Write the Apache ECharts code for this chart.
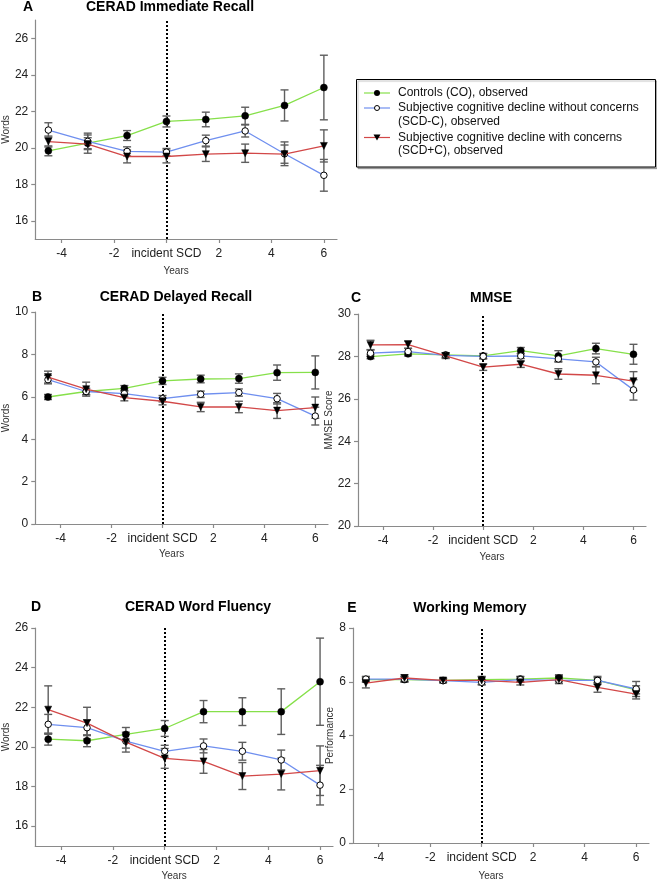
<!DOCTYPE html>
<html>
<head>
<meta charset="utf-8">
<script src="https://cdn.jsdelivr.net/npm/echarts@6/dist/echarts.min.js"></script>
<style>
html,body{margin:0;padding:0;background:#fff;}
#chart{width:657px;height:883px;}
</style>
</head>
<body>
<div id="chart"></div>
<script>
// ---- data ----
const years = [-4.5, -3, -1.5, 0, 1.5, 3, 4.5, 6];
const xTicks = [-4, -2, 0, 2, 4, 6];
const seriesNames = ['Controls (CO), observed', 'Subjective cognitive decline without concerns (SCD-C), observed', 'Subjective cognitive decline with concerns (SCD+C), observed'];

// A: CERAD Immediate Recall
const A_CO = [19.83, 20.25, 20.67, 21.44, 21.55, 21.75, 22.32, 23.30];
const A_CO_ERR = [0.27, 0.30, 0.27, 0.30, 0.40, 0.47, 0.85, 1.77];
const A_SCDm = [20.97, 20.35, 19.80, 19.76, 20.39, 20.92, 19.67, 18.49];
const A_SCDm_ERR = [0.40, 0.45, 0.25, 0.20, 0.30, 0.33, 0.65, 0.87];
const A_SCDp = [20.34, 20.20, 19.52, 19.52, 19.65, 19.70, 19.65, 20.10];
const A_SCDp_ERR = [0.30, 0.50, 0.35, 0.35, 0.40, 0.50, 0.50, 0.88];
const A_yTicks = [16, 18, 20, 22, 24, 26];

// B: CERAD Delayed Recall
const B_CO = [5.99, 6.25, 6.40, 6.75, 6.84, 6.86, 7.14, 7.15];
const B_CO_ERR = [0.12, 0.15, 0.13, 0.17, 0.18, 0.22, 0.36, 0.78];
const B_SCDm = [6.81, 6.25, 6.15, 5.91, 6.12, 6.20, 5.91, 5.09];
const B_SCDm_ERR = [0.20, 0.15, 0.15, 0.15, 0.15, 0.17, 0.25, 0.42];
const B_SCDp = [6.93, 6.36, 5.96, 5.79, 5.52, 5.52, 5.35, 5.49];
const B_SCDp_ERR = [0.28, 0.33, 0.15, 0.17, 0.22, 0.27, 0.37, 0.50];
const B_yTicks = [0, 2, 4, 6, 8, 10];

// C: MMSE
const C_CO = [27.99, 28.12, 28.07, 28.02, 28.27, 28.02, 28.37, 28.10];
const C_CO_ERR = [0.10, 0.10, 0.10, 0.12, 0.15, 0.25, 0.25, 0.47];
const C_SCDm = [28.15, 28.23, 28.05, 28.00, 28.02, 27.88, 27.74, 26.42];
const C_SCDm_ERR = [0.15, 0.15, 0.12, 0.12, 0.12, 0.15, 0.22, 0.48];
const C_SCDp = [28.54, 28.56, 28.02, 27.49, 27.63, 27.17, 27.11, 26.83];
const C_SCDp_ERR = [0.22, 0.18, 0.12, 0.15, 0.15, 0.25, 0.40, 0.45];
const C_yTicks = [20, 22, 24, 26, 28, 30];

// D: CERAD Word Fluency
const D_CO = [20.39, 20.31, 20.63, 20.93, 21.78, 21.78, 21.78, 23.29];
const D_CO_ERR = [0.30, 0.30, 0.35, 0.40, 0.56, 0.70, 1.15, 2.20];
const D_SCDm = [21.14, 20.97, 20.29, 19.78, 20.05, 19.78, 19.34, 18.07];
const D_SCDm_ERR = [0.50, 0.40, 0.35, 0.30, 0.35, 0.45, 0.50, 1.00];
const D_SCDp = [21.88, 21.20, 20.24, 19.42, 19.27, 18.53, 18.63, 18.80];
const D_SCDp_ERR = [1.20, 0.80, 0.50, 0.50, 0.60, 0.68, 0.80, 1.25];
const D_yTicks = [16, 18, 20, 22, 24, 26];

// E: Working Memory
const E_CO = [6.08, 6.08, 6.05, 6.08, 6.10, 6.14, 6.05, 5.70];
const E_CO_ERR = [0.10, 0.10, 0.08, 0.10, 0.10, 0.12, 0.10, 0.15];
const E_SCDm = [6.10, 6.10, 6.04, 5.98, 6.08, 6.05, 6.05, 5.73];
const E_SCDm_ERR = [0.10, 0.10, 0.08, 0.10, 0.10, 0.10, 0.15, 0.28];
const E_SCDp = [5.95, 6.14, 6.05, 6.05, 5.98, 6.08, 5.79, 5.54];
const E_SCDp_ERR = [0.18, 0.12, 0.08, 0.15, 0.10, 0.15, 0.18, 0.18];
const E_yTicks = [0, 2, 4, 6, 8];

// ---- styling / layout ----
const FONT = '"Liberation Sans", Arial, Helvetica, sans-serif';
const COL = ['#86E04A', '#6F8FEF', '#D24848'];
const AXIS_COL = '#8a8a8a';
const ERR_COL = '#5e5e5e';

const panels = [
  {letter:'A', title:'CERAD Immediate Recall', lx:28, tx:170, ty:0,
   grid:{left:32, top:20, width:305, height:219}, ymin:15, ymax:27, yTicks:A_yTicks,
   yName:'Words', yGap:21, xGap:27,
   d:[[A_CO, A_CO_ERR],[A_SCDm, A_SCDm_ERR],[A_SCDp, A_SCDp_ERR]]},
  {letter:'B', title:'CERAD Delayed Recall', lx:37, tx:176, ty:290,
   grid:{left:33, top:312, width:295, height:212}, ymin:0, ymax:10, yTicks:B_yTicks,
   yName:'Words', yGap:12, xGap:25,
   d:[[B_CO, B_CO_ERR],[B_SCDm, B_SCDm_ERR],[B_SCDp, B_SCDp_ERR]]},
  {letter:'C', title:'MMSE', lx:356, tx:491, ty:291,
   grid:{left:358, top:314, width:288, height:212}, ymin:20, ymax:30, yTicks:C_yTicks,
   yName:'MMSE Score', yGap:23, xGap:26,
   d:[[C_CO, C_CO_ERR],[C_SCDm, C_SCDm_ERR],[C_SCDp, C_SCDp_ERR]]},
  {letter:'D', title:'CERAD Word Fluency', lx:36, tx:198, ty:600,
   grid:{left:32, top:628, width:301, height:218}, ymin:15, ymax:26, yTicks:D_yTicks,
   yName:'Words', yGap:19, xGap:25,
   d:[[D_CO, D_CO_ERR],[D_SCDm, D_SCDm_ERR],[D_SCDp, D_SCDp_ERR]]},
  {letter:'E', title:'Working Memory', lx:352, tx:470, ty:601,
   grid:{left:353, top:628, width:296, height:215}, ymin:0, ymax:8, yTicks:E_yTicks,
   yName:'Performance', yGap:14, xGap:28,
   d:[[E_CO, E_CO_ERR],[E_SCDm, E_SCDm_ERR],[E_SCDp, E_SCDp_ERR]]}
];

const symbols = [
  {symbol:'circle', symbolSize:7, itemStyle:{color:'#000', borderColor:'#000', borderWidth:0.5}},
  {symbol:'circle', symbolSize:6.5, itemStyle:{color:'#fff', borderColor:'#000', borderWidth:1}},
  {symbol:'triangle', symbolSize:7, symbolRotate:180, itemStyle:{color:'#000', borderColor:'#000', borderWidth:0.5}}
];

function errRender(params, api) {
  const x = api.value(0), lo = api.value(1), hi = api.value(2);
  const p1 = api.coord([x, lo]), p2 = api.coord([x, hi]);
  const w = 4;
  const st = {stroke: ERR_COL, lineWidth: 1.4};
  return {type:'group', children:[
    {type:'line', shape:{x1:p1[0], y1:p1[1], x2:p2[0], y2:p2[1]}, style:st},
    {type:'line', shape:{x1:p1[0]-w, y1:p1[1], x2:p1[0]+w, y2:p1[1]}, style:st},
    {type:'line', shape:{x1:p2[0]-w, y1:p2[1], x2:p2[0]+w, y2:p2[1]}, style:st}
  ]};
}

const grids = [], xAxes = [], yAxes = [], series = [], titles = [];
panels.forEach((p, i) => {
  grids.push(Object.assign({containLabel:false}, p.grid));
  titles.push({text:p.letter, left:p.lx, top:p.ty, textAlign:'center', padding:0,
    textStyle:{fontFamily:FONT, fontSize:14, fontWeight:'bold', color:'#000'}});
  titles.push({text:p.title, left:p.tx, top:p.ty, textAlign:'center', padding:0,
    textStyle:{fontFamily:FONT, fontSize:14, fontWeight:'bold', color:'#000'}});
  xAxes.push({
    type:'value', gridIndex:i, min:-5, max:6.5,
    axisLine:{show:true, onZero:false, lineStyle:{color:AXIS_COL, width:1.2}},
    axisTick:{show:true, customValues:xTicks, length:4, lineStyle:{color:AXIS_COL, width:1.2}},
    axisLabel:{customValues:xTicks, margin:9, color:'#222', fontSize:12, fontFamily:FONT,
      formatter: v => (v === 0 ? 'incident SCD' : String(v))},
    splitLine:{show:false},
    name:'Years', nameLocation:'middle', nameGap:p.xGap,
    nameTextStyle:{fontFamily:FONT, fontSize:10, color:'#333', padding:[0,20,0,0]}
  });
  yAxes.push({
    type:'value', gridIndex:i, min:p.ymin, max:p.ymax,
    axisLine:{show:true, onZero:false, lineStyle:{color:AXIS_COL, width:1.2}},
    axisTick:{show:true, customValues:p.yTicks, length:4, lineStyle:{color:AXIS_COL, width:1.2}},
    axisLabel:{customValues:p.yTicks, margin:7, color:'#222', fontSize:12, fontFamily:FONT},
    splitLine:{show:false},
    name:p.yName, nameLocation:'middle', nameGap:p.yGap,
    nameTextStyle:{fontFamily:FONT, fontSize:10, color:'#333'}
  });
  p.d.forEach((pair, k) => {
    const vals = pair[0], errs = pair[1];
    series.push({
      type:'custom', name:seriesNames[k], xAxisIndex:i, yAxisIndex:i, z:2,
      renderItem: errRender, encode:{x:0, y:[1,2]}, silent:true,
      data: years.map((x, j) => [x, vals[j] - errs[j], vals[j] + errs[j]])
    });
  });
  p.d.forEach((pair, k) => {
    const vals = pair[0];
    const s = Object.assign({
      type:'line', name:seriesNames[k], xAxisIndex:i, yAxisIndex:i, z:3 + k,
      lineStyle:{color:COL[k], width:1.3}, showSymbol:true, silent:true,
      data: years.map((x, j) => [x, vals[j]])
    }, symbols[k]);
    if (k === 0) {
      s.markLine = {silent:true, symbol:['none','none'], label:{show:false},
        lineStyle:{type:[2,2], color:'#000', width:2}, data:[{xAxis:0}], z:1};
    }
    series.push(s);
  });
});

// legend drawn as graphic box
const LX = 364, LX2 = 390, TX = 398;
const rows = [
  {y:93, lines:['Controls (CO), observed'], k:0},
  {y:108, lines:['Subjective cognitive decline without concerns', '(SCD-C), observed'], k:1},
  {y:137.5, lines:['Subjective cognitive decline with concerns', '(SCD+C), observed'], k:2}
];
const graphics = [{type:'rect', shape:{x:356.5, y:79.5, width:299, height:87.5},
  style:{fill:'#fff', stroke:'#000', lineWidth:1, shadowColor:'rgba(0,0,0,0.25)', shadowOffsetX:1.5, shadowOffsetY:1.5, shadowBlur:1}, z:10}];
rows.forEach(r => {
  graphics.push({type:'line', shape:{x1:LX, y1:r.y, x2:LX2, y2:r.y}, style:{stroke:COL[r.k], lineWidth:1.2}, z:11});
  const cx = (LX + LX2) / 2;
  if (r.k === 0) graphics.push({type:'circle', shape:{cx:cx, cy:r.y, r:3}, style:{fill:'#000'}, z:12});
  if (r.k === 1) graphics.push({type:'circle', shape:{cx:cx, cy:r.y, r:2.5}, style:{fill:'#fff', stroke:'#000', lineWidth:1}, z:12});
  if (r.k === 2) graphics.push({type:'polygon', shape:{points:[[cx-3.5, r.y-3],[cx+3.5, r.y-3],[cx, r.y+3]]}, style:{fill:'#000'}, z:12});
  r.lines.forEach((t, j) => {
    graphics.push({type:'text', x:TX, y:r.y + j*13.5, z:12,
      style:{text:t, fontFamily:FONT, fontSize:12, fill:'#111', align:'left', verticalAlign:'middle'}});
  });
});

const chart = echarts.init(document.getElementById('chart'), null, {renderer:'canvas'});
chart.setOption({
  animation:false,
  backgroundColor:'#fff',
  title:titles,
  grid:grids,
  xAxis:xAxes,
  yAxis:yAxes,
  series:series,
  graphic:graphics
});
</script>
</body>
</html>
